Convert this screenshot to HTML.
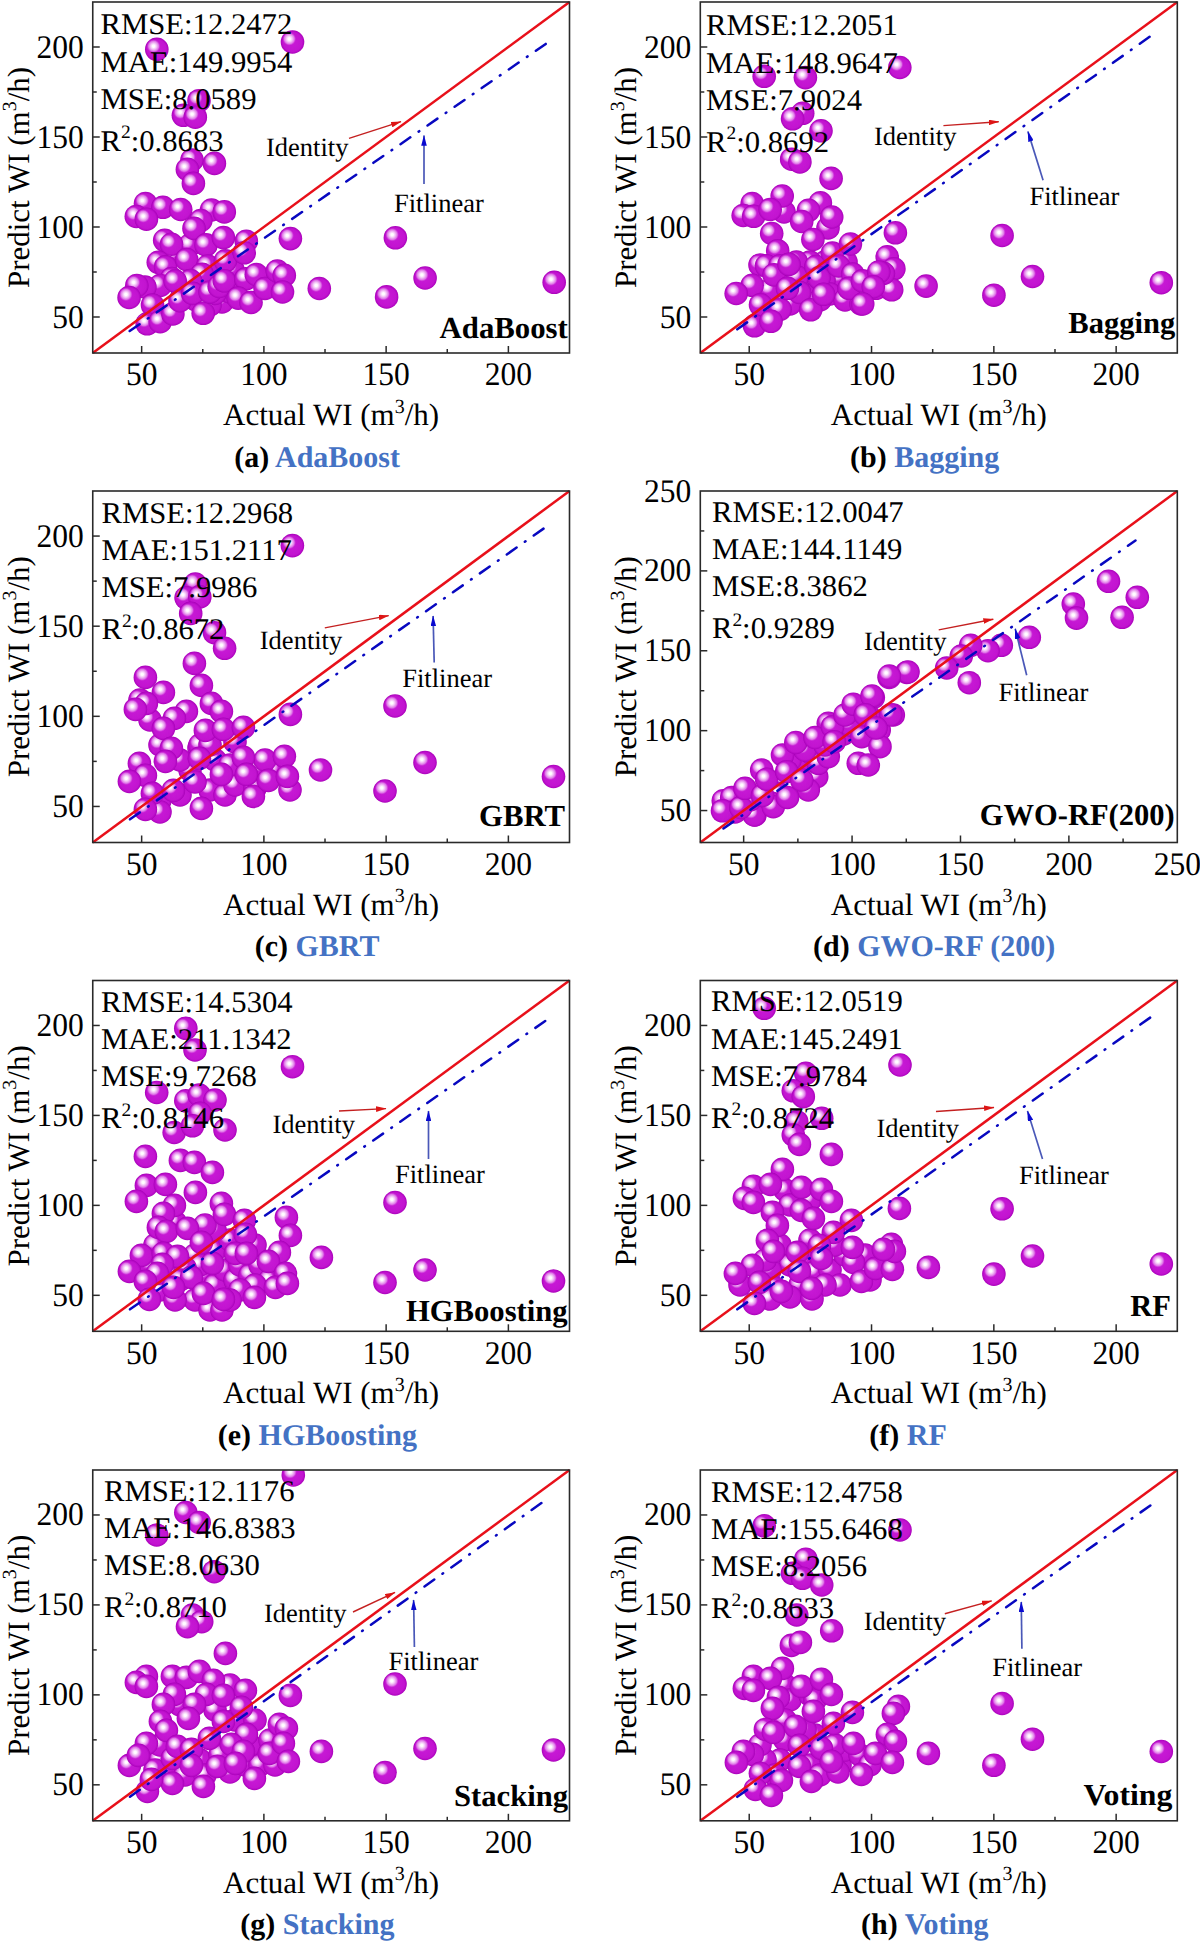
<!DOCTYPE html>
<html><head><meta charset="utf-8"><title>WI prediction scatter plots</title>
<style>html,body{margin:0;padding:0;background:#fff;width:1200px;height:1943px;overflow:hidden}svg{display:block}text{text-rendering:geometricPrecision}</style>
</head><body>
<svg width="1200" height="1943" viewBox="0 0 1200 1943">
<defs>
<radialGradient id="hl" cx="0.5" cy="0.5" r="0.5">
<stop offset="0" stop-color="#ffffff"/>
<stop offset="0.18" stop-color="#fffaff"/>
<stop offset="0.45" stop-color="#f2c4f5" stop-opacity="0.97"/>
<stop offset="0.72" stop-color="#e488ec" stop-opacity="0.85"/>
<stop offset="0.88" stop-color="#d448de" stop-opacity="0.45"/>
<stop offset="1" stop-color="#c418d2" stop-opacity="0"/>
</radialGradient>
<radialGradient id="sph" cx="0.5" cy="0.5" r="0.5">
<stop offset="0" stop-color="#c81ad6"/>
<stop offset="0.8" stop-color="#c214d0"/>
<stop offset="0.93" stop-color="#b408c4"/>
<stop offset="1" stop-color="#a600b6"/>
</radialGradient>
<g id="ball"><circle cx="0" cy="0" r="11.8" fill="url(#sph)"/><circle cx="-3.2" cy="-3.1" r="7" fill="url(#hl)"/></g>
<marker id="arr_r" viewBox="0 0 10 10" refX="9.5" refY="5" markerWidth="10.5" markerHeight="5.6" markerUnits="userSpaceOnUse" orient="auto" preserveAspectRatio="none"><path d="M0,0 L10,5 L0,10 z" fill="#dd1515"/></marker>
<marker id="arr_b" viewBox="0 0 10 10" refX="9.5" refY="5" markerWidth="10.8" markerHeight="5.6" markerUnits="userSpaceOnUse" orient="auto" preserveAspectRatio="none"><path d="M0,0 L10,5 L0,10 z" fill="#0a0ad0"/></marker>
<clipPath id="clipa"><rect x="92.75" y="2" width="476.75" height="351"/></clipPath><clipPath id="clipb"><rect x="700.3" y="2" width="477" height="351"/></clipPath><clipPath id="clipc"><rect x="92.75" y="491" width="476.75" height="351.5"/></clipPath><clipPath id="clipd"><rect x="700.3" y="491" width="477" height="351.5"/></clipPath><clipPath id="clipe"><rect x="92.75" y="980.5" width="476.75" height="350.8"/></clipPath><clipPath id="clipf"><rect x="700.3" y="980.5" width="477" height="350.8"/></clipPath><clipPath id="clipg"><rect x="92.75" y="1470" width="476.75" height="350.8"/></clipPath><clipPath id="cliph"><rect x="700.3" y="1470" width="477" height="350.8"/></clipPath>
</defs>
<rect width="1200" height="1943" fill="#fff"/>
<g clip-path="url(#clipa)">
<use href="#ball" x="185" y="292"/>
<use href="#ball" x="196" y="300"/>
<use href="#ball" x="222" y="302"/>
<use href="#ball" x="230" y="292"/>
<use href="#ball" x="210" y="305"/>
<use href="#ball" x="180" y="285"/>
<use href="#ball" x="233" y="270"/>
<use href="#ball" x="215" y="280"/>
<use href="#ball" x="211.4" y="275.4"/>
<use href="#ball" x="175" y="255"/>
<use href="#ball" x="190" y="245"/>
<use href="#ball" x="156.8" y="49.3"/>
<use href="#ball" x="292.5" y="42"/>
<use href="#ball" x="199" y="100.7"/>
<use href="#ball" x="183.4" y="115.3"/>
<use href="#ball" x="195.3" y="117.2"/>
<use href="#ball" x="192" y="160"/>
<use href="#ball" x="187.4" y="169.4"/>
<use href="#ball" x="214.4" y="163.4"/>
<use href="#ball" x="193.4" y="183.4"/>
<use href="#ball" x="145.5" y="203.6"/>
<use href="#ball" x="162.9" y="207.3"/>
<use href="#ball" x="180.7" y="209.5"/>
<use href="#ball" x="136.3" y="216.5"/>
<use href="#ball" x="146.4" y="219.2"/>
<use href="#ball" x="211.5" y="210"/>
<use href="#ball" x="224.3" y="211.9"/>
<use href="#ball" x="200.8" y="220.5"/>
<use href="#ball" x="194" y="228.4"/>
<use href="#ball" x="164.7" y="240.3"/>
<use href="#ball" x="171.5" y="244.3"/>
<use href="#ball" x="206" y="244.9"/>
<use href="#ball" x="223.4" y="237.6"/>
<use href="#ball" x="246.3" y="241.2"/>
<use href="#ball" x="290.4" y="238.6"/>
<use href="#ball" x="158.3" y="262.3"/>
<use href="#ball" x="165.6" y="266.9"/>
<use href="#ball" x="186.7" y="259.6"/>
<use href="#ball" x="207.8" y="266"/>
<use href="#ball" x="225.4" y="260.8"/>
<use href="#ball" x="202.1" y="274.2"/>
<use href="#ball" x="190.4" y="280.6"/>
<use href="#ball" x="171.8" y="278.5"/>
<use href="#ball" x="160.2" y="285.5"/>
<use href="#ball" x="175.2" y="281"/>
<use href="#ball" x="144.9" y="287"/>
<use href="#ball" x="136.8" y="285.5"/>
<use href="#ball" x="129.1" y="297.5"/>
<use href="#ball" x="152.5" y="305.1"/>
<use href="#ball" x="147.2" y="323.8"/>
<use href="#ball" x="160.2" y="321.7"/>
<use href="#ball" x="172.9" y="313.9"/>
<use href="#ball" x="180" y="300.7"/>
<use href="#ball" x="192.7" y="293.4"/>
<use href="#ball" x="203.2" y="313.3"/>
<use href="#ball" x="214.9" y="293.4"/>
<use href="#ball" x="210" y="292"/>
<use href="#ball" x="219.2" y="286.5"/>
<use href="#ball" x="224.3" y="280.8"/>
<use href="#ball" x="244.2" y="252.8"/>
<use href="#ball" x="245.8" y="278.9"/>
<use href="#ball" x="238.2" y="298.1"/>
<use href="#ball" x="251" y="302.5"/>
<use href="#ball" x="256.3" y="274.5"/>
<use href="#ball" x="265" y="288.5"/>
<use href="#ball" x="277.3" y="271"/>
<use href="#ball" x="284.3" y="275.4"/>
<use href="#ball" x="282.5" y="292"/>
<use href="#ball" x="319.3" y="288.5"/>
<use href="#ball" x="395.4" y="237.8"/>
<use href="#ball" x="386.6" y="296.9"/>
<use href="#ball" x="425.1" y="278"/>
<use href="#ball" x="554.2" y="282.3"/>
</g>
<line x1="92.75" y1="353" x2="569.5" y2="2" stroke="#e8101a" stroke-width="2.5"/>
<line x1="128.7" y1="331.7" x2="548.5" y2="42" stroke="#0808c0" stroke-width="2.5" stroke-dasharray="12 10.05 0.8 10.05" stroke-dashoffset="-1.2" stroke-linecap="round"/>
<rect x="92.75" y="2" width="476.75" height="351" fill="none" stroke="#2a2a2a" stroke-width="1.6"/>
<line x1="141.65" y1="353" x2="141.65" y2="346" stroke="#2a2a2a" stroke-width="1.5"/>
<line x1="92.75" y1="317" x2="99.75" y2="317" stroke="#2a2a2a" stroke-width="1.5"/>
<text transform="translate(141.65,385.4) scale(0.955,1)" text-anchor="middle" font-size="33" font-family="Liberation Serif">50</text>
<text transform="translate(83.75,327.5) scale(0.955,1)" text-anchor="end" font-size="33" font-family="Liberation Serif">50</text>
<line x1="202.77" y1="353" x2="202.77" y2="349" stroke="#2a2a2a" stroke-width="1.5"/>
<line x1="92.75" y1="272" x2="96.75" y2="272" stroke="#2a2a2a" stroke-width="1.5"/>
<line x1="263.89" y1="353" x2="263.89" y2="346" stroke="#2a2a2a" stroke-width="1.5"/>
<line x1="92.75" y1="227" x2="99.75" y2="227" stroke="#2a2a2a" stroke-width="1.5"/>
<text transform="translate(263.89,385.4) scale(0.955,1)" text-anchor="middle" font-size="33" font-family="Liberation Serif">100</text>
<text transform="translate(83.75,237.5) scale(0.955,1)" text-anchor="end" font-size="33" font-family="Liberation Serif">100</text>
<line x1="325.01" y1="353" x2="325.01" y2="349" stroke="#2a2a2a" stroke-width="1.5"/>
<line x1="92.75" y1="182" x2="96.75" y2="182" stroke="#2a2a2a" stroke-width="1.5"/>
<line x1="386.13" y1="353" x2="386.13" y2="346" stroke="#2a2a2a" stroke-width="1.5"/>
<line x1="92.75" y1="137" x2="99.75" y2="137" stroke="#2a2a2a" stroke-width="1.5"/>
<text transform="translate(386.13,385.4) scale(0.955,1)" text-anchor="middle" font-size="33" font-family="Liberation Serif">150</text>
<text transform="translate(83.75,147.5) scale(0.955,1)" text-anchor="end" font-size="33" font-family="Liberation Serif">150</text>
<line x1="447.26" y1="353" x2="447.26" y2="349" stroke="#2a2a2a" stroke-width="1.5"/>
<line x1="92.75" y1="92" x2="96.75" y2="92" stroke="#2a2a2a" stroke-width="1.5"/>
<line x1="508.38" y1="353" x2="508.38" y2="346" stroke="#2a2a2a" stroke-width="1.5"/>
<line x1="92.75" y1="47" x2="99.75" y2="47" stroke="#2a2a2a" stroke-width="1.5"/>
<text transform="translate(508.38,385.4) scale(0.955,1)" text-anchor="middle" font-size="33" font-family="Liberation Serif">200</text>
<text transform="translate(83.75,57.5) scale(0.955,1)" text-anchor="end" font-size="33" font-family="Liberation Serif">200</text>
<text x="331.12" y="425" text-anchor="middle" font-size="31" font-family="Liberation Serif">Actual WI (m<tspan dy="-12.5" font-size="20">3</tspan><tspan dy="12.5">/h)</tspan></text>
<text transform="translate(28.75,177.5) rotate(-90)" x="0" y="0" text-anchor="middle" font-size="31" font-family="Liberation Serif">Predict WI (m<tspan dy="-12.5" font-size="20">3</tspan><tspan dy="12.5">/h)</tspan></text>
<text transform="translate(100.6,34.2) scale(1.022,1)" font-size="30" font-family="Liberation Serif">RMSE:12.2472</text>
<text transform="translate(100.6,71.5) scale(1.022,1)" font-size="30" font-family="Liberation Serif">MAE:149.9954</text>
<text transform="translate(100.6,108.7) scale(1.022,1)" font-size="30" font-family="Liberation Serif">MSE:8.0589</text>
<text transform="translate(100.6,150.7) scale(1.022,1)" font-size="30" font-family="Liberation Serif">R<tspan dy="-12.5" font-size="19">2</tspan><tspan dy="12.5">:0.8683</tspan></text>
<text x="439.6" y="337.5" textLength="128.2" lengthAdjust="spacingAndGlyphs" font-size="30.5" font-weight="bold" font-family="Liberation Serif">AdaBoost</text>
<text x="317.1" y="466.5" text-anchor="middle" font-size="30" font-weight="bold" font-family="Liberation Serif">(a) <tspan fill="#4472c4">AdaBoost</tspan></text>
<text x="266" y="156.4" font-size="26.5" font-family="Liberation Serif">Identity</text>
<text x="394" y="212.4" font-size="26.5" font-family="Liberation Serif">Fitlinear</text>
<line x1="349" y1="138.4" x2="401" y2="121.6" stroke="#c42020" stroke-width="1.4" marker-end="url(#arr_r)"/>
<line x1="424" y1="184" x2="424" y2="135.6" stroke="#4a58b8" stroke-width="1.7" marker-end="url(#arr_b)"/>
<g clip-path="url(#clipb)">
<use href="#ball" x="784" y="212"/>
<use href="#ball" x="828" y="228"/>
<use href="#ball" x="840" y="278"/>
<use href="#ball" x="824" y="280"/>
<use href="#ball" x="804" y="294"/>
<use href="#ball" x="790" y="304"/>
<use href="#ball" x="830" y="294"/>
<use href="#ball" x="846" y="262"/>
<use href="#ball" x="797" y="284"/>
<use href="#ball" x="825" y="262"/>
<use href="#ball" x="760" y="265"/>
<use href="#ball" x="770" y="290"/>
<use href="#ball" x="810" y="262"/>
<use href="#ball" x="845" y="300"/>
<use href="#ball" x="820" y="300"/>
<use href="#ball" x="764.2" y="76.3"/>
<use href="#ball" x="805.4" y="77.6"/>
<use href="#ball" x="899.8" y="67.5"/>
<use href="#ball" x="802.7" y="113.3"/>
<use href="#ball" x="792.6" y="118.8"/>
<use href="#ball" x="821" y="130.8"/>
<use href="#ball" x="791.7" y="159.2"/>
<use href="#ball" x="799.9" y="161.9"/>
<use href="#ball" x="831.1" y="178.4"/>
<use href="#ball" x="782.2" y="196"/>
<use href="#ball" x="752.2" y="203.6"/>
<use href="#ball" x="743.2" y="215.5"/>
<use href="#ball" x="753.7" y="216.3"/>
<use href="#ball" x="770.2" y="209.5"/>
<use href="#ball" x="820.4" y="202.8"/>
<use href="#ball" x="808.5" y="210.3"/>
<use href="#ball" x="801.7" y="221.5"/>
<use href="#ball" x="831.7" y="217"/>
<use href="#ball" x="771.7" y="233.5"/>
<use href="#ball" x="812.9" y="239.5"/>
<use href="#ball" x="777.7" y="250.8"/>
<use href="#ball" x="766.5" y="265.8"/>
<use href="#ball" x="780" y="265.8"/>
<use href="#ball" x="774" y="274.8"/>
<use href="#ball" x="796.4" y="262"/>
<use href="#ball" x="797.2" y="277"/>
<use href="#ball" x="815.9" y="266.5"/>
<use href="#ball" x="832.4" y="253"/>
<use href="#ball" x="850.4" y="244"/>
<use href="#ball" x="819" y="277.8"/>
<use href="#ball" x="838.5" y="266"/>
<use href="#ball" x="852.7" y="274.1"/>
<use href="#ball" x="752.2" y="285.3"/>
<use href="#ball" x="736.2" y="293.5"/>
<use href="#ball" x="760.5" y="304.8"/>
<use href="#ball" x="780" y="309.3"/>
<use href="#ball" x="754.5" y="325.8"/>
<use href="#ball" x="771" y="321.3"/>
<use href="#ball" x="799.5" y="292.5"/>
<use href="#ball" x="810.7" y="309.8"/>
<use href="#ball" x="823.5" y="294.3"/>
<use href="#ball" x="861" y="304"/>
<use href="#ball" x="876" y="288.3"/>
<use href="#ball" x="887.2" y="256.8"/>
<use href="#ball" x="893.9" y="268.8"/>
<use href="#ball" x="891.7" y="289.8"/>
<use href="#ball" x="895.4" y="232.8"/>
<use href="#ball" x="883.4" y="273.3"/>
<use href="#ball" x="789" y="264.3"/>
<use href="#ball" x="787.5" y="288.3"/>
<use href="#ball" x="849" y="288.3"/>
<use href="#ball" x="862.5" y="280.8"/>
<use href="#ball" x="878.7" y="272"/>
<use href="#ball" x="873.3" y="286.7"/>
<use href="#ball" x="862.7" y="304"/>
<use href="#ball" x="926.1" y="286.1"/>
<use href="#ball" x="1002.1" y="235.5"/>
<use href="#ball" x="993.9" y="295.2"/>
<use href="#ball" x="1032.5" y="276.5"/>
<use href="#ball" x="1161.3" y="282.7"/>
</g>
<line x1="700.3" y1="353" x2="1177.3" y2="2" stroke="#e8101a" stroke-width="2.5"/>
<line x1="736.3" y1="330" x2="1155" y2="33" stroke="#0808c0" stroke-width="2.5" stroke-dasharray="12 10.05 0.8 10.05" stroke-dashoffset="-1.2" stroke-linecap="round"/>
<rect x="700.3" y="2" width="477" height="351" fill="none" stroke="#2a2a2a" stroke-width="1.6"/>
<line x1="749.22" y1="353" x2="749.22" y2="346" stroke="#2a2a2a" stroke-width="1.5"/>
<line x1="700.3" y1="317" x2="707.3" y2="317" stroke="#2a2a2a" stroke-width="1.5"/>
<text transform="translate(749.22,385.4) scale(0.955,1)" text-anchor="middle" font-size="33" font-family="Liberation Serif">50</text>
<text transform="translate(691.3,327.5) scale(0.955,1)" text-anchor="end" font-size="33" font-family="Liberation Serif">50</text>
<line x1="810.38" y1="353" x2="810.38" y2="349" stroke="#2a2a2a" stroke-width="1.5"/>
<line x1="700.3" y1="272" x2="704.3" y2="272" stroke="#2a2a2a" stroke-width="1.5"/>
<line x1="871.53" y1="353" x2="871.53" y2="346" stroke="#2a2a2a" stroke-width="1.5"/>
<line x1="700.3" y1="227" x2="707.3" y2="227" stroke="#2a2a2a" stroke-width="1.5"/>
<text transform="translate(871.53,385.4) scale(0.955,1)" text-anchor="middle" font-size="33" font-family="Liberation Serif">100</text>
<text transform="translate(691.3,237.5) scale(0.955,1)" text-anchor="end" font-size="33" font-family="Liberation Serif">100</text>
<line x1="932.68" y1="353" x2="932.68" y2="349" stroke="#2a2a2a" stroke-width="1.5"/>
<line x1="700.3" y1="182" x2="704.3" y2="182" stroke="#2a2a2a" stroke-width="1.5"/>
<line x1="993.84" y1="353" x2="993.84" y2="346" stroke="#2a2a2a" stroke-width="1.5"/>
<line x1="700.3" y1="137" x2="707.3" y2="137" stroke="#2a2a2a" stroke-width="1.5"/>
<text transform="translate(993.84,385.4) scale(0.955,1)" text-anchor="middle" font-size="33" font-family="Liberation Serif">150</text>
<text transform="translate(691.3,147.5) scale(0.955,1)" text-anchor="end" font-size="33" font-family="Liberation Serif">150</text>
<line x1="1054.99" y1="353" x2="1054.99" y2="349" stroke="#2a2a2a" stroke-width="1.5"/>
<line x1="700.3" y1="92" x2="704.3" y2="92" stroke="#2a2a2a" stroke-width="1.5"/>
<line x1="1116.15" y1="353" x2="1116.15" y2="346" stroke="#2a2a2a" stroke-width="1.5"/>
<line x1="700.3" y1="47" x2="707.3" y2="47" stroke="#2a2a2a" stroke-width="1.5"/>
<text transform="translate(1116.15,385.4) scale(0.955,1)" text-anchor="middle" font-size="33" font-family="Liberation Serif">200</text>
<text transform="translate(691.3,57.5) scale(0.955,1)" text-anchor="end" font-size="33" font-family="Liberation Serif">200</text>
<text x="938.8" y="425" text-anchor="middle" font-size="31" font-family="Liberation Serif">Actual WI (m<tspan dy="-12.5" font-size="20">3</tspan><tspan dy="12.5">/h)</tspan></text>
<text transform="translate(636.3,177.5) rotate(-90)" x="0" y="0" text-anchor="middle" font-size="31" font-family="Liberation Serif">Predict WI (m<tspan dy="-12.5" font-size="20">3</tspan><tspan dy="12.5">/h)</tspan></text>
<text transform="translate(706.1,35.2) scale(1.022,1)" font-size="30" font-family="Liberation Serif">RMSE:12.2051</text>
<text transform="translate(706.1,72.5) scale(1.022,1)" font-size="30" font-family="Liberation Serif">MAE:148.9647</text>
<text transform="translate(706.1,109.7) scale(1.022,1)" font-size="30" font-family="Liberation Serif">MSE:7.9024</text>
<text transform="translate(706.1,151.7) scale(1.022,1)" font-size="30" font-family="Liberation Serif">R<tspan dy="-12.5" font-size="19">2</tspan><tspan dy="12.5">:0.8692</tspan></text>
<text x="1068.3" y="333" textLength="106.9" lengthAdjust="spacingAndGlyphs" font-size="30.5" font-weight="bold" font-family="Liberation Serif">Bagging</text>
<text x="924.6" y="466.5" text-anchor="middle" font-size="30" font-weight="bold" font-family="Liberation Serif">(b) <tspan fill="#4472c4">Bagging</tspan></text>
<text x="874" y="144.6" font-size="26.5" font-family="Liberation Serif">Identity</text>
<text x="1029.5" y="205.1" font-size="26.5" font-family="Liberation Serif">Fitlinear</text>
<line x1="943.4" y1="125.6" x2="998.7" y2="121.7" stroke="#c42020" stroke-width="1.4" marker-end="url(#arr_r)"/>
<line x1="1043.1" y1="180.2" x2="1027.9" y2="131.4" stroke="#4a58b8" stroke-width="1.7" marker-end="url(#arr_b)"/>
<g clip-path="url(#clipc)">
<use href="#ball" x="160" y="745"/>
<use href="#ball" x="199" y="748"/>
<use href="#ball" x="190" y="770"/>
<use href="#ball" x="180" y="795"/>
<use href="#ball" x="160" y="800"/>
<use href="#ball" x="210" y="790"/>
<use href="#ball" x="225" y="795"/>
<use href="#ball" x="235" y="785"/>
<use href="#ball" x="215" y="760"/>
<use href="#ball" x="230" y="765"/>
<use href="#ball" x="200" y="745"/>
<use href="#ball" x="260" y="768"/>
<use href="#ball" x="275" y="770"/>
<use href="#ball" x="290" y="790"/>
<use href="#ball" x="180" y="760"/>
<use href="#ball" x="255" y="788"/>
<use href="#ball" x="265" y="760"/>
<use href="#ball" x="210" y="745"/>
<use href="#ball" x="140" y="700"/>
<use href="#ball" x="150" y="720"/>
<use href="#ball" x="235" y="742"/>
<use href="#ball" x="195" y="782"/>
<use href="#ball" x="160" y="812"/>
<use href="#ball" x="292.4" y="545.6"/>
<use href="#ball" x="195.3" y="584.1"/>
<use href="#ball" x="186.1" y="597.8"/>
<use href="#ball" x="199.8" y="596.9"/>
<use href="#ball" x="190.7" y="613.4"/>
<use href="#ball" x="214.5" y="632.7"/>
<use href="#ball" x="224.6" y="648.3"/>
<use href="#ball" x="145.4" y="677.4"/>
<use href="#ball" x="163.4" y="692.4"/>
<use href="#ball" x="146.4" y="703.4"/>
<use href="#ball" x="135.4" y="709.4"/>
<use href="#ball" x="186.4" y="711.4"/>
<use href="#ball" x="174.4" y="718.4"/>
<use href="#ball" x="163.4" y="728.4"/>
<use href="#ball" x="194.4" y="663.4"/>
<use href="#ball" x="201.4" y="685.4"/>
<use href="#ball" x="211.4" y="703.4"/>
<use href="#ball" x="221.4" y="711.4"/>
<use href="#ball" x="205.4" y="730.4"/>
<use href="#ball" x="223.4" y="729.4"/>
<use href="#ball" x="243.4" y="727.4"/>
<use href="#ball" x="290.4" y="714.4"/>
<use href="#ball" x="171.4" y="748.4"/>
<use href="#ball" x="165.4" y="761.4"/>
<use href="#ball" x="139.4" y="763.4"/>
<use href="#ball" x="145.4" y="775.4"/>
<use href="#ball" x="129.4" y="781.4"/>
<use href="#ball" x="152.4" y="793.4"/>
<use href="#ball" x="173.4" y="790.4"/>
<use href="#ball" x="145.4" y="809.4"/>
<use href="#ball" x="201.4" y="808.4"/>
<use href="#ball" x="199.4" y="758.4"/>
<use href="#ball" x="221.4" y="774.4"/>
<use href="#ball" x="243.4" y="757.4"/>
<use href="#ball" x="246.4" y="774.4"/>
<use href="#ball" x="253.4" y="796.4"/>
<use href="#ball" x="268.4" y="780.4"/>
<use href="#ball" x="284.4" y="756.4"/>
<use href="#ball" x="287.4" y="776.4"/>
<use href="#ball" x="320.5" y="770"/>
<use href="#ball" x="395" y="706"/>
<use href="#ball" x="425" y="762.5"/>
<use href="#ball" x="385" y="791"/>
<use href="#ball" x="553.5" y="776.5"/>
</g>
<line x1="92.75" y1="842.5" x2="569.5" y2="491" stroke="#e8101a" stroke-width="2.5"/>
<line x1="129" y1="820" x2="547.7" y2="525.7" stroke="#0808c0" stroke-width="2.5" stroke-dasharray="12 10.05 0.8 10.05" stroke-dashoffset="-1.2" stroke-linecap="round"/>
<rect x="92.75" y="491" width="476.75" height="351.5" fill="none" stroke="#2a2a2a" stroke-width="1.6"/>
<line x1="141.65" y1="842.5" x2="141.65" y2="835.5" stroke="#2a2a2a" stroke-width="1.5"/>
<line x1="92.75" y1="806.45" x2="99.75" y2="806.45" stroke="#2a2a2a" stroke-width="1.5"/>
<text transform="translate(141.65,874.9) scale(0.955,1)" text-anchor="middle" font-size="33" font-family="Liberation Serif">50</text>
<text transform="translate(83.75,816.95) scale(0.955,1)" text-anchor="end" font-size="33" font-family="Liberation Serif">50</text>
<line x1="202.77" y1="842.5" x2="202.77" y2="838.5" stroke="#2a2a2a" stroke-width="1.5"/>
<line x1="92.75" y1="761.38" x2="96.75" y2="761.38" stroke="#2a2a2a" stroke-width="1.5"/>
<line x1="263.89" y1="842.5" x2="263.89" y2="835.5" stroke="#2a2a2a" stroke-width="1.5"/>
<line x1="92.75" y1="716.32" x2="99.75" y2="716.32" stroke="#2a2a2a" stroke-width="1.5"/>
<text transform="translate(263.89,874.9) scale(0.955,1)" text-anchor="middle" font-size="33" font-family="Liberation Serif">100</text>
<text transform="translate(83.75,726.82) scale(0.955,1)" text-anchor="end" font-size="33" font-family="Liberation Serif">100</text>
<line x1="325.01" y1="842.5" x2="325.01" y2="838.5" stroke="#2a2a2a" stroke-width="1.5"/>
<line x1="92.75" y1="671.26" x2="96.75" y2="671.26" stroke="#2a2a2a" stroke-width="1.5"/>
<line x1="386.13" y1="842.5" x2="386.13" y2="835.5" stroke="#2a2a2a" stroke-width="1.5"/>
<line x1="92.75" y1="626.19" x2="99.75" y2="626.19" stroke="#2a2a2a" stroke-width="1.5"/>
<text transform="translate(386.13,874.9) scale(0.955,1)" text-anchor="middle" font-size="33" font-family="Liberation Serif">150</text>
<text transform="translate(83.75,636.69) scale(0.955,1)" text-anchor="end" font-size="33" font-family="Liberation Serif">150</text>
<line x1="447.26" y1="842.5" x2="447.26" y2="838.5" stroke="#2a2a2a" stroke-width="1.5"/>
<line x1="92.75" y1="581.13" x2="96.75" y2="581.13" stroke="#2a2a2a" stroke-width="1.5"/>
<line x1="508.38" y1="842.5" x2="508.38" y2="835.5" stroke="#2a2a2a" stroke-width="1.5"/>
<line x1="92.75" y1="536.06" x2="99.75" y2="536.06" stroke="#2a2a2a" stroke-width="1.5"/>
<text transform="translate(508.38,874.9) scale(0.955,1)" text-anchor="middle" font-size="33" font-family="Liberation Serif">200</text>
<text transform="translate(83.75,546.56) scale(0.955,1)" text-anchor="end" font-size="33" font-family="Liberation Serif">200</text>
<text x="331.12" y="914.5" text-anchor="middle" font-size="31" font-family="Liberation Serif">Actual WI (m<tspan dy="-12.5" font-size="20">3</tspan><tspan dy="12.5">/h)</tspan></text>
<text transform="translate(28.75,666.75) rotate(-90)" x="0" y="0" text-anchor="middle" font-size="31" font-family="Liberation Serif">Predict WI (m<tspan dy="-12.5" font-size="20">3</tspan><tspan dy="12.5">/h)</tspan></text>
<text transform="translate(101.45,522.75) scale(1.022,1)" font-size="30" font-family="Liberation Serif">RMSE:12.2968</text>
<text transform="translate(101.45,560.05) scale(1.022,1)" font-size="30" font-family="Liberation Serif">MAE:151.2117</text>
<text transform="translate(101.45,597.25) scale(1.022,1)" font-size="30" font-family="Liberation Serif">MSE:7.9986</text>
<text transform="translate(101.45,639.25) scale(1.022,1)" font-size="30" font-family="Liberation Serif">R<tspan dy="-12.5" font-size="19">2</tspan><tspan dy="12.5">:0.8672</tspan></text>
<text x="478.95" y="825.7" textLength="86.25" lengthAdjust="spacingAndGlyphs" font-size="30.5" font-weight="bold" font-family="Liberation Serif">GBRT</text>
<text x="317.1" y="956" text-anchor="middle" font-size="30" font-weight="bold" font-family="Liberation Serif">(c) <tspan fill="#4472c4">GBRT</tspan></text>
<text x="259.8" y="649" font-size="26.5" font-family="Liberation Serif">Identity</text>
<text x="402.2" y="687" font-size="26.5" font-family="Liberation Serif">Fitlinear</text>
<line x1="324.8" y1="627.9" x2="388.7" y2="615.6" stroke="#c42020" stroke-width="1.4" marker-end="url(#arr_r)"/>
<line x1="434.2" y1="662.6" x2="433.1" y2="616" stroke="#4a58b8" stroke-width="1.7" marker-end="url(#arr_b)"/>
<g clip-path="url(#clipd)">
<use href="#ball" x="723.3" y="800.8"/>
<use href="#ball" x="731.7" y="797.5"/>
<use href="#ball" x="755" y="815"/>
<use href="#ball" x="778.3" y="793.3"/>
<use href="#ball" x="798.3" y="763.3"/>
<use href="#ball" x="811.7" y="753.3"/>
<use href="#ball" x="816.7" y="776.7"/>
<use href="#ball" x="818.3" y="763.3"/>
<use href="#ball" x="828.3" y="723.3"/>
<use href="#ball" x="843.3" y="734.2"/>
<use href="#ball" x="828.3" y="756.7"/>
<use href="#ball" x="808.3" y="790"/>
<use href="#ball" x="771.7" y="803.3"/>
<use href="#ball" x="754.2" y="815"/>
<use href="#ball" x="773.3" y="806.7"/>
<use href="#ball" x="787.5" y="797.5"/>
<use href="#ball" x="844.7" y="718"/>
<use href="#ball" x="735" y="812"/>
<use href="#ball" x="750" y="800"/>
<use href="#ball" x="790" y="760"/>
<use href="#ball" x="805" y="750"/>
<use href="#ball" x="825" y="745"/>
<use href="#ball" x="850" y="725"/>
<use href="#ball" x="722.5" y="810.8"/>
<use href="#ball" x="740.8" y="807.5"/>
<use href="#ball" x="745" y="788.3"/>
<use href="#ball" x="762.5" y="795.4"/>
<use href="#ball" x="761.7" y="770"/>
<use href="#ball" x="766.7" y="779.2"/>
<use href="#ball" x="782.5" y="755"/>
<use href="#ball" x="786.7" y="771.7"/>
<use href="#ball" x="795.8" y="742.5"/>
<use href="#ball" x="801.7" y="780"/>
<use href="#ball" x="815" y="737.5"/>
<use href="#ball" x="832.5" y="726.7"/>
<use href="#ball" x="834.2" y="741.7"/>
<use href="#ball" x="845" y="715"/>
<use href="#ball" x="853.3" y="704.2"/>
<use href="#ball" x="873.3" y="697.5"/>
<use href="#ball" x="869.2" y="716.7"/>
<use href="#ball" x="879.2" y="730"/>
<use href="#ball" x="861.7" y="736.7"/>
<use href="#ball" x="880" y="746.7"/>
<use href="#ball" x="858.3" y="763.3"/>
<use href="#ball" x="868.3" y="765"/>
<use href="#ball" x="893.3" y="715"/>
<use href="#ball" x="889.2" y="677.5"/>
<use href="#ball" x="906.7" y="672.5"/>
<use href="#ball" x="1108.5" y="581.3"/>
<use href="#ball" x="1137.3" y="597.3"/>
<use href="#ball" x="1073.3" y="604"/>
<use href="#ball" x="1076.5" y="618.1"/>
<use href="#ball" x="1122.1" y="617.3"/>
<use href="#ball" x="1029.3" y="637.3"/>
<use href="#ball" x="1001.3" y="645.3"/>
<use href="#ball" x="988" y="650.7"/>
<use href="#ball" x="970.7" y="645.3"/>
<use href="#ball" x="961.3" y="656"/>
<use href="#ball" x="946.7" y="668"/>
<use href="#ball" x="969.3" y="682.7"/>
<use href="#ball" x="908" y="672"/>
<use href="#ball" x="889.3" y="676"/>
<use href="#ball" x="872" y="696"/>
<use href="#ball" x="890.7" y="714.7"/>
<use href="#ball" x="865.3" y="714.7"/>
<use href="#ball" x="876" y="728"/>
</g>
<line x1="700.3" y1="842.5" x2="1177.3" y2="491" stroke="#e8101a" stroke-width="2.5"/>
<line x1="722.5" y1="829.2" x2="1135.5" y2="540.5" stroke="#0808c0" stroke-width="2.5" stroke-dasharray="12 10.05 0.8 10.05" stroke-dashoffset="-1.2" stroke-linecap="round"/>
<rect x="700.3" y="491" width="477" height="351.5" fill="none" stroke="#2a2a2a" stroke-width="1.6"/>
<line x1="743.66" y1="842.5" x2="743.66" y2="835.5" stroke="#2a2a2a" stroke-width="1.5"/>
<line x1="700.3" y1="810.55" x2="707.3" y2="810.55" stroke="#2a2a2a" stroke-width="1.5"/>
<text transform="translate(743.66,874.9) scale(0.955,1)" text-anchor="middle" font-size="33" font-family="Liberation Serif">50</text>
<text transform="translate(691.3,821.05) scale(0.955,1)" text-anchor="end" font-size="33" font-family="Liberation Serif">50</text>
<line x1="797.87" y1="842.5" x2="797.87" y2="838.5" stroke="#2a2a2a" stroke-width="1.5"/>
<line x1="700.3" y1="770.6" x2="704.3" y2="770.6" stroke="#2a2a2a" stroke-width="1.5"/>
<line x1="852.07" y1="842.5" x2="852.07" y2="835.5" stroke="#2a2a2a" stroke-width="1.5"/>
<line x1="700.3" y1="730.66" x2="707.3" y2="730.66" stroke="#2a2a2a" stroke-width="1.5"/>
<text transform="translate(852.07,874.9) scale(0.955,1)" text-anchor="middle" font-size="33" font-family="Liberation Serif">100</text>
<text transform="translate(691.3,741.16) scale(0.955,1)" text-anchor="end" font-size="33" font-family="Liberation Serif">100</text>
<line x1="906.28" y1="842.5" x2="906.28" y2="838.5" stroke="#2a2a2a" stroke-width="1.5"/>
<line x1="700.3" y1="690.72" x2="704.3" y2="690.72" stroke="#2a2a2a" stroke-width="1.5"/>
<line x1="960.48" y1="842.5" x2="960.48" y2="835.5" stroke="#2a2a2a" stroke-width="1.5"/>
<line x1="700.3" y1="650.77" x2="707.3" y2="650.77" stroke="#2a2a2a" stroke-width="1.5"/>
<text transform="translate(960.48,874.9) scale(0.955,1)" text-anchor="middle" font-size="33" font-family="Liberation Serif">150</text>
<text transform="translate(691.3,661.27) scale(0.955,1)" text-anchor="end" font-size="33" font-family="Liberation Serif">150</text>
<line x1="1014.69" y1="842.5" x2="1014.69" y2="838.5" stroke="#2a2a2a" stroke-width="1.5"/>
<line x1="700.3" y1="610.83" x2="704.3" y2="610.83" stroke="#2a2a2a" stroke-width="1.5"/>
<line x1="1068.89" y1="842.5" x2="1068.89" y2="835.5" stroke="#2a2a2a" stroke-width="1.5"/>
<line x1="700.3" y1="570.89" x2="707.3" y2="570.89" stroke="#2a2a2a" stroke-width="1.5"/>
<text transform="translate(1068.89,874.9) scale(0.955,1)" text-anchor="middle" font-size="33" font-family="Liberation Serif">200</text>
<text transform="translate(691.3,581.39) scale(0.955,1)" text-anchor="end" font-size="33" font-family="Liberation Serif">200</text>
<line x1="1123.1" y1="842.5" x2="1123.1" y2="838.5" stroke="#2a2a2a" stroke-width="1.5"/>
<line x1="700.3" y1="530.94" x2="704.3" y2="530.94" stroke="#2a2a2a" stroke-width="1.5"/>
<text transform="translate(1177.3,874.9) scale(0.955,1)" text-anchor="middle" font-size="33" font-family="Liberation Serif">250</text>
<text transform="translate(691.3,501.5) scale(0.955,1)" text-anchor="end" font-size="33" font-family="Liberation Serif">250</text>
<text x="938.8" y="914.5" text-anchor="middle" font-size="31" font-family="Liberation Serif">Actual WI (m<tspan dy="-12.5" font-size="20">3</tspan><tspan dy="12.5">/h)</tspan></text>
<text transform="translate(636.3,666.75) rotate(-90)" x="0" y="0" text-anchor="middle" font-size="31" font-family="Liberation Serif">Predict WI (m<tspan dy="-12.5" font-size="20">3</tspan><tspan dy="12.5">/h)</tspan></text>
<text transform="translate(711.95,521.5) scale(1.022,1)" font-size="30" font-family="Liberation Serif">RMSE:12.0047</text>
<text transform="translate(711.95,558.8) scale(1.022,1)" font-size="30" font-family="Liberation Serif">MAE:144.1149</text>
<text transform="translate(711.95,596) scale(1.022,1)" font-size="30" font-family="Liberation Serif">MSE:8.3862</text>
<text transform="translate(711.95,638) scale(1.022,1)" font-size="30" font-family="Liberation Serif">R<tspan dy="-12.5" font-size="19">2</tspan><tspan dy="12.5">:0.9289</tspan></text>
<text x="979.8" y="824.75" textLength="194.8" lengthAdjust="spacingAndGlyphs" font-size="30.5" font-weight="bold" font-family="Liberation Serif">GWO-RF(200)</text>
<text x="934.1" y="956" text-anchor="middle" font-size="30" font-weight="bold" font-family="Liberation Serif">(d) <tspan fill="#4472c4">GWO-RF (200)</tspan></text>
<text x="864" y="650.3" font-size="26.5" font-family="Liberation Serif">Identity</text>
<text x="998.5" y="701.3" font-size="26.5" font-family="Liberation Serif">Fitlinear</text>
<line x1="938.7" y1="629.9" x2="993.3" y2="619.2" stroke="#c42020" stroke-width="1.4" marker-end="url(#arr_r)"/>
<line x1="1026.7" y1="675.2" x2="1015.2" y2="628.8" stroke="#4a58b8" stroke-width="1.7" marker-end="url(#arr_b)"/>
<g clip-path="url(#clipe)">
<use href="#ball" x="195" y="1255"/>
<use href="#ball" x="205" y="1275"/>
<use href="#ball" x="215" y="1285"/>
<use href="#ball" x="225" y="1270"/>
<use href="#ball" x="235" y="1280"/>
<use href="#ball" x="240" y="1265"/>
<use href="#ball" x="215" y="1250"/>
<use href="#ball" x="200" y="1265"/>
<use href="#ball" x="185" y="1268"/>
<use href="#ball" x="180" y="1280"/>
<use href="#ball" x="160" y="1290"/>
<use href="#ball" x="195" y="1300"/>
<use href="#ball" x="210" y="1310"/>
<use href="#ball" x="222" y="1310"/>
<use href="#ball" x="175" y="1300"/>
<use href="#ball" x="250" y="1275"/>
<use href="#ball" x="260" y="1265"/>
<use href="#ball" x="270" y="1280"/>
<use href="#ball" x="255" y="1285"/>
<use href="#ball" x="175" y="1222"/>
<use href="#ball" x="155" y="1245"/>
<use href="#ball" x="230" y="1240"/>
<use href="#ball" x="240" y="1290"/>
<use href="#ball" x="230" y="1300"/>
<use href="#ball" x="215" y="1230"/>
<use href="#ball" x="205" y="1225"/>
<use href="#ball" x="255" y="1245"/>
<use href="#ball" x="150" y="1265"/>
<use href="#ball" x="185.8" y="1028.3"/>
<use href="#ball" x="195" y="1050"/>
<use href="#ball" x="292.5" y="1066.7"/>
<use href="#ball" x="156.7" y="1092.5"/>
<use href="#ball" x="185.8" y="1100.8"/>
<use href="#ball" x="199.2" y="1095"/>
<use href="#ball" x="215" y="1100"/>
<use href="#ball" x="200" y="1113.3"/>
<use href="#ball" x="174.2" y="1132.5"/>
<use href="#ball" x="192.5" y="1125.8"/>
<use href="#ball" x="225" y="1130"/>
<use href="#ball" x="145.4" y="1156.4"/>
<use href="#ball" x="180.4" y="1160.4"/>
<use href="#ball" x="194.4" y="1162.4"/>
<use href="#ball" x="212.4" y="1172.4"/>
<use href="#ball" x="146.4" y="1185.4"/>
<use href="#ball" x="165.4" y="1184.4"/>
<use href="#ball" x="136.4" y="1201.4"/>
<use href="#ball" x="195.4" y="1192.4"/>
<use href="#ball" x="221.4" y="1203.4"/>
<use href="#ball" x="224.4" y="1214.4"/>
<use href="#ball" x="244.4" y="1220.4"/>
<use href="#ball" x="174.4" y="1205.4"/>
<use href="#ball" x="163.4" y="1213.4"/>
<use href="#ball" x="158.4" y="1227.4"/>
<use href="#ball" x="166.4" y="1231.4"/>
<use href="#ball" x="187.4" y="1228.4"/>
<use href="#ball" x="201.4" y="1242.4"/>
<use href="#ball" x="286.4" y="1217.4"/>
<use href="#ball" x="290.4" y="1235.4"/>
<use href="#ball" x="245.4" y="1234.4"/>
<use href="#ball" x="141.4" y="1255.4"/>
<use href="#ball" x="129.4" y="1271.4"/>
<use href="#ball" x="163.4" y="1253.4"/>
<use href="#ball" x="177.4" y="1256.4"/>
<use href="#ball" x="162.4" y="1264.4"/>
<use href="#ball" x="157.4" y="1273.4"/>
<use href="#ball" x="145.4" y="1281.4"/>
<use href="#ball" x="191.4" y="1277.4"/>
<use href="#ball" x="212.4" y="1263.4"/>
<use href="#ball" x="173.4" y="1287.4"/>
<use href="#ball" x="235.4" y="1253.4"/>
<use href="#ball" x="246.4" y="1253.4"/>
<use href="#ball" x="279.4" y="1252.4"/>
<use href="#ball" x="268.4" y="1261.4"/>
<use href="#ball" x="285.4" y="1273.4"/>
<use href="#ball" x="275.4" y="1287.4"/>
<use href="#ball" x="287.4" y="1283.4"/>
<use href="#ball" x="149.4" y="1299.4"/>
<use href="#ball" x="203.4" y="1293.4"/>
<use href="#ball" x="223.4" y="1299.4"/>
<use href="#ball" x="254.4" y="1297.4"/>
<use href="#ball" x="321.4" y="1257.4"/>
<use href="#ball" x="395" y="1202.5"/>
<use href="#ball" x="385" y="1282.5"/>
<use href="#ball" x="425" y="1270"/>
<use href="#ball" x="553.5" y="1281"/>
</g>
<line x1="92.75" y1="1331.3" x2="569.5" y2="980.5" stroke="#e8101a" stroke-width="2.5"/>
<line x1="129" y1="1310" x2="547.7" y2="1019.3" stroke="#0808c0" stroke-width="2.5" stroke-dasharray="12 10.05 0.8 10.05" stroke-dashoffset="-1.2" stroke-linecap="round"/>
<rect x="92.75" y="980.5" width="476.75" height="350.8" fill="none" stroke="#2a2a2a" stroke-width="1.6"/>
<line x1="141.65" y1="1331.3" x2="141.65" y2="1324.3" stroke="#2a2a2a" stroke-width="1.5"/>
<line x1="92.75" y1="1295.32" x2="99.75" y2="1295.32" stroke="#2a2a2a" stroke-width="1.5"/>
<text transform="translate(141.65,1363.7) scale(0.955,1)" text-anchor="middle" font-size="33" font-family="Liberation Serif">50</text>
<text transform="translate(83.75,1305.82) scale(0.955,1)" text-anchor="end" font-size="33" font-family="Liberation Serif">50</text>
<line x1="202.77" y1="1331.3" x2="202.77" y2="1327.3" stroke="#2a2a2a" stroke-width="1.5"/>
<line x1="92.75" y1="1250.35" x2="96.75" y2="1250.35" stroke="#2a2a2a" stroke-width="1.5"/>
<line x1="263.89" y1="1331.3" x2="263.89" y2="1324.3" stroke="#2a2a2a" stroke-width="1.5"/>
<line x1="92.75" y1="1205.37" x2="99.75" y2="1205.37" stroke="#2a2a2a" stroke-width="1.5"/>
<text transform="translate(263.89,1363.7) scale(0.955,1)" text-anchor="middle" font-size="33" font-family="Liberation Serif">100</text>
<text transform="translate(83.75,1215.87) scale(0.955,1)" text-anchor="end" font-size="33" font-family="Liberation Serif">100</text>
<line x1="325.01" y1="1331.3" x2="325.01" y2="1327.3" stroke="#2a2a2a" stroke-width="1.5"/>
<line x1="92.75" y1="1160.4" x2="96.75" y2="1160.4" stroke="#2a2a2a" stroke-width="1.5"/>
<line x1="386.13" y1="1331.3" x2="386.13" y2="1324.3" stroke="#2a2a2a" stroke-width="1.5"/>
<line x1="92.75" y1="1115.42" x2="99.75" y2="1115.42" stroke="#2a2a2a" stroke-width="1.5"/>
<text transform="translate(386.13,1363.7) scale(0.955,1)" text-anchor="middle" font-size="33" font-family="Liberation Serif">150</text>
<text transform="translate(83.75,1125.92) scale(0.955,1)" text-anchor="end" font-size="33" font-family="Liberation Serif">150</text>
<line x1="447.26" y1="1331.3" x2="447.26" y2="1327.3" stroke="#2a2a2a" stroke-width="1.5"/>
<line x1="92.75" y1="1070.45" x2="96.75" y2="1070.45" stroke="#2a2a2a" stroke-width="1.5"/>
<line x1="508.38" y1="1331.3" x2="508.38" y2="1324.3" stroke="#2a2a2a" stroke-width="1.5"/>
<line x1="92.75" y1="1025.47" x2="99.75" y2="1025.47" stroke="#2a2a2a" stroke-width="1.5"/>
<text transform="translate(508.38,1363.7) scale(0.955,1)" text-anchor="middle" font-size="33" font-family="Liberation Serif">200</text>
<text transform="translate(83.75,1035.97) scale(0.955,1)" text-anchor="end" font-size="33" font-family="Liberation Serif">200</text>
<text x="331.12" y="1403.3" text-anchor="middle" font-size="31" font-family="Liberation Serif">Actual WI (m<tspan dy="-12.5" font-size="20">3</tspan><tspan dy="12.5">/h)</tspan></text>
<text transform="translate(28.75,1155.9) rotate(-90)" x="0" y="0" text-anchor="middle" font-size="31" font-family="Liberation Serif">Predict WI (m<tspan dy="-12.5" font-size="20">3</tspan><tspan dy="12.5">/h)</tspan></text>
<text transform="translate(101,1011.75) scale(1.022,1)" font-size="30" font-family="Liberation Serif">RMSE:14.5304</text>
<text transform="translate(101,1049.05) scale(1.022,1)" font-size="30" font-family="Liberation Serif">MAE:211.1342</text>
<text transform="translate(101,1086.25) scale(1.022,1)" font-size="30" font-family="Liberation Serif">MSE:9.7268</text>
<text transform="translate(101,1128.25) scale(1.022,1)" font-size="30" font-family="Liberation Serif">R<tspan dy="-12.5" font-size="19">2</tspan><tspan dy="12.5">:0.8146</tspan></text>
<text x="405.9" y="1321.3" textLength="161.8" lengthAdjust="spacingAndGlyphs" font-size="30.5" font-weight="bold" font-family="Liberation Serif">HGBoosting</text>
<text x="317.4" y="1444.8" text-anchor="middle" font-size="30" font-weight="bold" font-family="Liberation Serif">(e) <tspan fill="#4472c4">HGBoosting</tspan></text>
<text x="272.5" y="1132.5" font-size="26.5" font-family="Liberation Serif">Identity</text>
<text x="395" y="1182.5" font-size="26.5" font-family="Liberation Serif">Fitlinear</text>
<line x1="339" y1="1111" x2="386" y2="1108.6" stroke="#c42020" stroke-width="1.4" marker-end="url(#arr_r)"/>
<line x1="428.5" y1="1159" x2="428.5" y2="1111" stroke="#4a58b8" stroke-width="1.7" marker-end="url(#arr_b)"/>
<g clip-path="url(#clipf)">
<use href="#ball" x="785" y="1190"/>
<use href="#ball" x="790" y="1205"/>
<use href="#ball" x="810" y="1200"/>
<use href="#ball" x="780" y="1245"/>
<use href="#ball" x="790" y="1265"/>
<use href="#ball" x="805" y="1260"/>
<use href="#ball" x="770" y="1270"/>
<use href="#ball" x="775" y="1288"/>
<use href="#ball" x="815" y="1272"/>
<use href="#ball" x="830" y="1270"/>
<use href="#ball" x="840" y="1285"/>
<use href="#ball" x="845" y="1255"/>
<use href="#ball" x="835" y="1245"/>
<use href="#ball" x="865" y="1255"/>
<use href="#ball" x="800" y="1285"/>
<use href="#ball" x="825" y="1285"/>
<use href="#ball" x="740" y="1285"/>
<use href="#ball" x="765" y="1260"/>
<use href="#ball" x="810" y="1240"/>
<use href="#ball" x="870" y="1280"/>
<use href="#ball" x="770" y="1299"/>
<use href="#ball" x="790" y="1297"/>
<use href="#ball" x="812" y="1299"/>
<use href="#ball" x="764.2" y="1008.3"/>
<use href="#ball" x="900" y="1065"/>
<use href="#ball" x="805.8" y="1073.3"/>
<use href="#ball" x="793.3" y="1090.8"/>
<use href="#ball" x="803.3" y="1096.7"/>
<use href="#ball" x="821.7" y="1118.3"/>
<use href="#ball" x="796.7" y="1121.7"/>
<use href="#ball" x="793.3" y="1135"/>
<use href="#ball" x="799.4" y="1144.4"/>
<use href="#ball" x="831.4" y="1154.4"/>
<use href="#ball" x="782.4" y="1169.4"/>
<use href="#ball" x="753.4" y="1186.4"/>
<use href="#ball" x="770.4" y="1184.4"/>
<use href="#ball" x="744.4" y="1198.4"/>
<use href="#ball" x="753.4" y="1202.4"/>
<use href="#ball" x="801.4" y="1187.4"/>
<use href="#ball" x="821.4" y="1189.4"/>
<use href="#ball" x="831.4" y="1201.4"/>
<use href="#ball" x="772.4" y="1212.4"/>
<use href="#ball" x="777.4" y="1225.4"/>
<use href="#ball" x="801.4" y="1210.4"/>
<use href="#ball" x="813.4" y="1218.4"/>
<use href="#ball" x="851.4" y="1220.4"/>
<use href="#ball" x="899.4" y="1208.4"/>
<use href="#ball" x="833.4" y="1232.4"/>
<use href="#ball" x="767.4" y="1240.4"/>
<use href="#ball" x="773.4" y="1251.4"/>
<use href="#ball" x="797.4" y="1252.4"/>
<use href="#ball" x="819.4" y="1245.4"/>
<use href="#ball" x="821.4" y="1258.4"/>
<use href="#ball" x="752.4" y="1265.4"/>
<use href="#ball" x="735.4" y="1273.4"/>
<use href="#ball" x="759.4" y="1282.4"/>
<use href="#ball" x="781.4" y="1291.4"/>
<use href="#ball" x="754.4" y="1303.4"/>
<use href="#ball" x="799.4" y="1271.4"/>
<use href="#ball" x="811.4" y="1288.4"/>
<use href="#ball" x="853.4" y="1262.4"/>
<use href="#ball" x="861.4" y="1281.4"/>
<use href="#ball" x="875.4" y="1268.4"/>
<use href="#ball" x="892.4" y="1269.4"/>
<use href="#ball" x="891.4" y="1244.4"/>
<use href="#ball" x="894.4" y="1251.4"/>
<use href="#ball" x="928.4" y="1267.4"/>
<use href="#ball" x="852.4" y="1247.4"/>
<use href="#ball" x="883.4" y="1249.4"/>
<use href="#ball" x="1002.1" y="1208.8"/>
<use href="#ball" x="993.9" y="1274.1"/>
<use href="#ball" x="1032.5" y="1256"/>
<use href="#ball" x="1161.3" y="1264"/>
</g>
<line x1="700.3" y1="1331.3" x2="1177.3" y2="980.5" stroke="#e8101a" stroke-width="2.5"/>
<line x1="736.3" y1="1310" x2="1155.3" y2="1014" stroke="#0808c0" stroke-width="2.5" stroke-dasharray="12 10.05 0.8 10.05" stroke-dashoffset="-1.2" stroke-linecap="round"/>
<rect x="700.3" y="980.5" width="477" height="350.8" fill="none" stroke="#2a2a2a" stroke-width="1.6"/>
<line x1="749.22" y1="1331.3" x2="749.22" y2="1324.3" stroke="#2a2a2a" stroke-width="1.5"/>
<line x1="700.3" y1="1295.32" x2="707.3" y2="1295.32" stroke="#2a2a2a" stroke-width="1.5"/>
<text transform="translate(749.22,1363.7) scale(0.955,1)" text-anchor="middle" font-size="33" font-family="Liberation Serif">50</text>
<text transform="translate(691.3,1305.82) scale(0.955,1)" text-anchor="end" font-size="33" font-family="Liberation Serif">50</text>
<line x1="810.38" y1="1331.3" x2="810.38" y2="1327.3" stroke="#2a2a2a" stroke-width="1.5"/>
<line x1="700.3" y1="1250.35" x2="704.3" y2="1250.35" stroke="#2a2a2a" stroke-width="1.5"/>
<line x1="871.53" y1="1331.3" x2="871.53" y2="1324.3" stroke="#2a2a2a" stroke-width="1.5"/>
<line x1="700.3" y1="1205.37" x2="707.3" y2="1205.37" stroke="#2a2a2a" stroke-width="1.5"/>
<text transform="translate(871.53,1363.7) scale(0.955,1)" text-anchor="middle" font-size="33" font-family="Liberation Serif">100</text>
<text transform="translate(691.3,1215.87) scale(0.955,1)" text-anchor="end" font-size="33" font-family="Liberation Serif">100</text>
<line x1="932.68" y1="1331.3" x2="932.68" y2="1327.3" stroke="#2a2a2a" stroke-width="1.5"/>
<line x1="700.3" y1="1160.4" x2="704.3" y2="1160.4" stroke="#2a2a2a" stroke-width="1.5"/>
<line x1="993.84" y1="1331.3" x2="993.84" y2="1324.3" stroke="#2a2a2a" stroke-width="1.5"/>
<line x1="700.3" y1="1115.42" x2="707.3" y2="1115.42" stroke="#2a2a2a" stroke-width="1.5"/>
<text transform="translate(993.84,1363.7) scale(0.955,1)" text-anchor="middle" font-size="33" font-family="Liberation Serif">150</text>
<text transform="translate(691.3,1125.92) scale(0.955,1)" text-anchor="end" font-size="33" font-family="Liberation Serif">150</text>
<line x1="1054.99" y1="1331.3" x2="1054.99" y2="1327.3" stroke="#2a2a2a" stroke-width="1.5"/>
<line x1="700.3" y1="1070.45" x2="704.3" y2="1070.45" stroke="#2a2a2a" stroke-width="1.5"/>
<line x1="1116.15" y1="1331.3" x2="1116.15" y2="1324.3" stroke="#2a2a2a" stroke-width="1.5"/>
<line x1="700.3" y1="1025.47" x2="707.3" y2="1025.47" stroke="#2a2a2a" stroke-width="1.5"/>
<text transform="translate(1116.15,1363.7) scale(0.955,1)" text-anchor="middle" font-size="33" font-family="Liberation Serif">200</text>
<text transform="translate(691.3,1035.97) scale(0.955,1)" text-anchor="end" font-size="33" font-family="Liberation Serif">200</text>
<text x="938.8" y="1403.3" text-anchor="middle" font-size="31" font-family="Liberation Serif">Actual WI (m<tspan dy="-12.5" font-size="20">3</tspan><tspan dy="12.5">/h)</tspan></text>
<text transform="translate(636.3,1155.9) rotate(-90)" x="0" y="0" text-anchor="middle" font-size="31" font-family="Liberation Serif">Predict WI (m<tspan dy="-12.5" font-size="20">3</tspan><tspan dy="12.5">/h)</tspan></text>
<text transform="translate(711.1,1011.3) scale(1.022,1)" font-size="30" font-family="Liberation Serif">RMSE:12.0519</text>
<text transform="translate(711.1,1048.6) scale(1.022,1)" font-size="30" font-family="Liberation Serif">MAE:145.2491</text>
<text transform="translate(711.1,1085.8) scale(1.022,1)" font-size="30" font-family="Liberation Serif">MSE:7.9784</text>
<text transform="translate(711.1,1127.8) scale(1.022,1)" font-size="30" font-family="Liberation Serif">R<tspan dy="-12.5" font-size="19">2</tspan><tspan dy="12.5">:0.8724</tspan></text>
<text x="1130.3" y="1315.7" textLength="40.7" lengthAdjust="spacingAndGlyphs" font-size="30.5" font-weight="bold" font-family="Liberation Serif">RF</text>
<text x="908" y="1444.8" text-anchor="middle" font-size="30" font-weight="bold" font-family="Liberation Serif">(f) <tspan fill="#4472c4">RF</tspan></text>
<text x="876.5" y="1136.5" font-size="26.5" font-family="Liberation Serif">Identity</text>
<text x="1019" y="1184" font-size="26.5" font-family="Liberation Serif">Fitlinear</text>
<line x1="936" y1="1111.5" x2="994" y2="1107.5" stroke="#c42020" stroke-width="1.4" marker-end="url(#arr_r)"/>
<line x1="1042.5" y1="1159" x2="1027.5" y2="1111" stroke="#4a58b8" stroke-width="1.7" marker-end="url(#arr_b)"/>
<g clip-path="url(#clipg)">
<use href="#ball" x="160" y="1760"/>
<use href="#ball" x="165" y="1775"/>
<use href="#ball" x="185" y="1775"/>
<use href="#ball" x="200" y="1760"/>
<use href="#ball" x="205" y="1775"/>
<use href="#ball" x="220" y="1755"/>
<use href="#ball" x="230" y="1772"/>
<use href="#ball" x="245" y="1765"/>
<use href="#ball" x="260" y="1765"/>
<use href="#ball" x="160" y="1745"/>
<use href="#ball" x="215" y="1710"/>
<use href="#ball" x="180" y="1705"/>
<use href="#ball" x="235" y="1720"/>
<use href="#ball" x="250" y="1745"/>
<use href="#ball" x="270" y="1740"/>
<use href="#ball" x="275" y="1765"/>
<use href="#ball" x="155" y="1770"/>
<use href="#ball" x="230" y="1685"/>
<use href="#ball" x="255" y="1720"/>
<use href="#ball" x="293.3" y="1475"/>
<use href="#ball" x="185.8" y="1512.5"/>
<use href="#ball" x="199.2" y="1522.5"/>
<use href="#ball" x="156.7" y="1535"/>
<use href="#ball" x="214.2" y="1571.7"/>
<use href="#ball" x="192.5" y="1615"/>
<use href="#ball" x="201.7" y="1621.7"/>
<use href="#ball" x="187.5" y="1626.7"/>
<use href="#ball" x="225.4" y="1653.4"/>
<use href="#ball" x="146.4" y="1676.4"/>
<use href="#ball" x="136.4" y="1682.4"/>
<use href="#ball" x="146.4" y="1686.4"/>
<use href="#ball" x="172.4" y="1676.4"/>
<use href="#ball" x="186.4" y="1677.4"/>
<use href="#ball" x="199.4" y="1671.4"/>
<use href="#ball" x="213.4" y="1680.4"/>
<use href="#ball" x="174.4" y="1694.4"/>
<use href="#ball" x="163.4" y="1704.4"/>
<use href="#ball" x="206.4" y="1694.4"/>
<use href="#ball" x="223.4" y="1695.4"/>
<use href="#ball" x="245.4" y="1690.4"/>
<use href="#ball" x="194.4" y="1704.4"/>
<use href="#ball" x="241.4" y="1707.4"/>
<use href="#ball" x="290.4" y="1695.4"/>
<use href="#ball" x="188.4" y="1718.4"/>
<use href="#ball" x="160.4" y="1721.4"/>
<use href="#ball" x="166.4" y="1730.4"/>
<use href="#ball" x="223.4" y="1721.4"/>
<use href="#ball" x="246.4" y="1734.4"/>
<use href="#ball" x="279.4" y="1724.4"/>
<use href="#ball" x="286.4" y="1728.4"/>
<use href="#ball" x="146.4" y="1743.4"/>
<use href="#ball" x="129.4" y="1765.4"/>
<use href="#ball" x="138.4" y="1755.4"/>
<use href="#ball" x="172.4" y="1758.4"/>
<use href="#ball" x="177.4" y="1746.4"/>
<use href="#ball" x="191.4" y="1749.4"/>
<use href="#ball" x="209.4" y="1738.4"/>
<use href="#ball" x="191.4" y="1765.4"/>
<use href="#ball" x="217.4" y="1766.4"/>
<use href="#ball" x="231.4" y="1744.4"/>
<use href="#ball" x="269.4" y="1753.4"/>
<use href="#ball" x="283.4" y="1743.4"/>
<use href="#ball" x="288.4" y="1761.4"/>
<use href="#ball" x="254.4" y="1778.4"/>
<use href="#ball" x="203.4" y="1786.4"/>
<use href="#ball" x="172.4" y="1783.4"/>
<use href="#ball" x="147.4" y="1791.4"/>
<use href="#ball" x="151.4" y="1779.4"/>
<use href="#ball" x="321.4" y="1751.4"/>
<use href="#ball" x="243.4" y="1751.4"/>
<use href="#ball" x="235.4" y="1763.4"/>
<use href="#ball" x="395" y="1684"/>
<use href="#ball" x="385" y="1772.5"/>
<use href="#ball" x="425" y="1748.5"/>
<use href="#ball" x="553.5" y="1750"/>
</g>
<line x1="92.75" y1="1820.8" x2="569.5" y2="1470" stroke="#e8101a" stroke-width="2.5"/>
<line x1="129" y1="1797.5" x2="547.5" y2="1498.7" stroke="#0808c0" stroke-width="2.5" stroke-dasharray="12 10.05 0.8 10.05" stroke-dashoffset="-1.2" stroke-linecap="round"/>
<rect x="92.75" y="1470" width="476.75" height="350.8" fill="none" stroke="#2a2a2a" stroke-width="1.6"/>
<line x1="141.65" y1="1820.8" x2="141.65" y2="1813.8" stroke="#2a2a2a" stroke-width="1.5"/>
<line x1="92.75" y1="1784.82" x2="99.75" y2="1784.82" stroke="#2a2a2a" stroke-width="1.5"/>
<text transform="translate(141.65,1853.2) scale(0.955,1)" text-anchor="middle" font-size="33" font-family="Liberation Serif">50</text>
<text transform="translate(83.75,1795.32) scale(0.955,1)" text-anchor="end" font-size="33" font-family="Liberation Serif">50</text>
<line x1="202.77" y1="1820.8" x2="202.77" y2="1816.8" stroke="#2a2a2a" stroke-width="1.5"/>
<line x1="92.75" y1="1739.85" x2="96.75" y2="1739.85" stroke="#2a2a2a" stroke-width="1.5"/>
<line x1="263.89" y1="1820.8" x2="263.89" y2="1813.8" stroke="#2a2a2a" stroke-width="1.5"/>
<line x1="92.75" y1="1694.87" x2="99.75" y2="1694.87" stroke="#2a2a2a" stroke-width="1.5"/>
<text transform="translate(263.89,1853.2) scale(0.955,1)" text-anchor="middle" font-size="33" font-family="Liberation Serif">100</text>
<text transform="translate(83.75,1705.37) scale(0.955,1)" text-anchor="end" font-size="33" font-family="Liberation Serif">100</text>
<line x1="325.01" y1="1820.8" x2="325.01" y2="1816.8" stroke="#2a2a2a" stroke-width="1.5"/>
<line x1="92.75" y1="1649.9" x2="96.75" y2="1649.9" stroke="#2a2a2a" stroke-width="1.5"/>
<line x1="386.13" y1="1820.8" x2="386.13" y2="1813.8" stroke="#2a2a2a" stroke-width="1.5"/>
<line x1="92.75" y1="1604.92" x2="99.75" y2="1604.92" stroke="#2a2a2a" stroke-width="1.5"/>
<text transform="translate(386.13,1853.2) scale(0.955,1)" text-anchor="middle" font-size="33" font-family="Liberation Serif">150</text>
<text transform="translate(83.75,1615.42) scale(0.955,1)" text-anchor="end" font-size="33" font-family="Liberation Serif">150</text>
<line x1="447.26" y1="1820.8" x2="447.26" y2="1816.8" stroke="#2a2a2a" stroke-width="1.5"/>
<line x1="92.75" y1="1559.95" x2="96.75" y2="1559.95" stroke="#2a2a2a" stroke-width="1.5"/>
<line x1="508.38" y1="1820.8" x2="508.38" y2="1813.8" stroke="#2a2a2a" stroke-width="1.5"/>
<line x1="92.75" y1="1514.97" x2="99.75" y2="1514.97" stroke="#2a2a2a" stroke-width="1.5"/>
<text transform="translate(508.38,1853.2) scale(0.955,1)" text-anchor="middle" font-size="33" font-family="Liberation Serif">200</text>
<text transform="translate(83.75,1525.47) scale(0.955,1)" text-anchor="end" font-size="33" font-family="Liberation Serif">200</text>
<text x="331.12" y="1892.8" text-anchor="middle" font-size="31" font-family="Liberation Serif">Actual WI (m<tspan dy="-12.5" font-size="20">3</tspan><tspan dy="12.5">/h)</tspan></text>
<text transform="translate(28.75,1645.4) rotate(-90)" x="0" y="0" text-anchor="middle" font-size="31" font-family="Liberation Serif">Predict WI (m<tspan dy="-12.5" font-size="20">3</tspan><tspan dy="12.5">/h)</tspan></text>
<text transform="translate(103.95,1500.5) scale(1.022,1)" font-size="30" font-family="Liberation Serif">RMSE:12.1176</text>
<text transform="translate(103.95,1537.8) scale(1.022,1)" font-size="30" font-family="Liberation Serif">MAE:146.8383</text>
<text transform="translate(103.95,1575) scale(1.022,1)" font-size="30" font-family="Liberation Serif">MSE:8.0630</text>
<text transform="translate(103.95,1617) scale(1.022,1)" font-size="30" font-family="Liberation Serif">R<tspan dy="-12.5" font-size="19">2</tspan><tspan dy="12.5">:0.8710</tspan></text>
<text x="454.05" y="1806.3" textLength="114.05" lengthAdjust="spacingAndGlyphs" font-size="30.5" font-weight="bold" font-family="Liberation Serif">Stacking</text>
<text x="317.4" y="1934.3" text-anchor="middle" font-size="30" font-weight="bold" font-family="Liberation Serif">(g) <tspan fill="#4472c4">Stacking</tspan></text>
<text x="264" y="1622.4" font-size="26.5" font-family="Liberation Serif">Identity</text>
<text x="388.5" y="1670" font-size="26.5" font-family="Liberation Serif">Fitlinear</text>
<line x1="353" y1="1612" x2="395" y2="1592.4" stroke="#c42020" stroke-width="1.4" marker-end="url(#arr_r)"/>
<line x1="414.4" y1="1647" x2="413.6" y2="1600" stroke="#4a58b8" stroke-width="1.7" marker-end="url(#arr_b)"/>
<g clip-path="url(#cliph)">
<use href="#ball" x="785" y="1685"/>
<use href="#ball" x="790" y="1700"/>
<use href="#ball" x="810" y="1695"/>
<use href="#ball" x="785" y="1740"/>
<use href="#ball" x="780" y="1760"/>
<use href="#ball" x="765" y="1760"/>
<use href="#ball" x="775" y="1775"/>
<use href="#ball" x="810" y="1765"/>
<use href="#ball" x="820" y="1775"/>
<use href="#ball" x="840" y="1765"/>
<use href="#ball" x="845" y="1750"/>
<use href="#ball" x="835" y="1745"/>
<use href="#ball" x="815" y="1735"/>
<use href="#ball" x="860" y="1755"/>
<use href="#ball" x="838" y="1772"/>
<use href="#ball" x="785" y="1720"/>
<use href="#ball" x="805" y="1730"/>
<use href="#ball" x="870" y="1765"/>
<use href="#ball" x="760" y="1745"/>
<use href="#ball" x="815" y="1700"/>
<use href="#ball" x="764.2" y="1525.8"/>
<use href="#ball" x="900" y="1530"/>
<use href="#ball" x="805.8" y="1559.2"/>
<use href="#ball" x="792.5" y="1573.3"/>
<use href="#ball" x="802.5" y="1578.3"/>
<use href="#ball" x="821.7" y="1585"/>
<use href="#ball" x="796.7" y="1615"/>
<use href="#ball" x="831.7" y="1630.8"/>
<use href="#ball" x="791.4" y="1645.4"/>
<use href="#ball" x="800.4" y="1642.4"/>
<use href="#ball" x="782.4" y="1668.4"/>
<use href="#ball" x="753.4" y="1676.4"/>
<use href="#ball" x="770.4" y="1678.4"/>
<use href="#ball" x="744.4" y="1688.4"/>
<use href="#ball" x="753.4" y="1690.4"/>
<use href="#ball" x="801.4" y="1686.4"/>
<use href="#ball" x="821.4" y="1679.4"/>
<use href="#ball" x="831.4" y="1694.4"/>
<use href="#ball" x="778.4" y="1697.4"/>
<use href="#ball" x="772.4" y="1708.4"/>
<use href="#ball" x="813.4" y="1711.4"/>
<use href="#ball" x="852.4" y="1712.4"/>
<use href="#ball" x="898.4" y="1706.4"/>
<use href="#ball" x="893.4" y="1713.4"/>
<use href="#ball" x="833.4" y="1723.4"/>
<use href="#ball" x="765.4" y="1729.4"/>
<use href="#ball" x="773.4" y="1732.4"/>
<use href="#ball" x="795.4" y="1726.4"/>
<use href="#ball" x="799.4" y="1745.4"/>
<use href="#ball" x="821.4" y="1748.4"/>
<use href="#ball" x="853.4" y="1743.4"/>
<use href="#ball" x="887.4" y="1734.4"/>
<use href="#ball" x="895.4" y="1741.4"/>
<use href="#ball" x="875.4" y="1753.4"/>
<use href="#ball" x="892.4" y="1762.4"/>
<use href="#ball" x="752.4" y="1754.4"/>
<use href="#ball" x="743.4" y="1751.4"/>
<use href="#ball" x="736.4" y="1762.4"/>
<use href="#ball" x="760.4" y="1773.4"/>
<use href="#ball" x="781.4" y="1780.4"/>
<use href="#ball" x="799.4" y="1766.4"/>
<use href="#ball" x="811.4" y="1781.4"/>
<use href="#ball" x="861.4" y="1774.4"/>
<use href="#ball" x="755.4" y="1789.4"/>
<use href="#ball" x="771.4" y="1795.4"/>
<use href="#ball" x="928.4" y="1753.4"/>
<use href="#ball" x="831.4" y="1761.4"/>
<use href="#ball" x="1002.1" y="1703.5"/>
<use href="#ball" x="993.9" y="1765.3"/>
<use href="#ball" x="1032.5" y="1739.2"/>
<use href="#ball" x="1161.3" y="1751.5"/>
</g>
<line x1="700.3" y1="1820.8" x2="1177.3" y2="1470" stroke="#e8101a" stroke-width="2.5"/>
<line x1="736.3" y1="1797.5" x2="1155.7" y2="1501.7" stroke="#0808c0" stroke-width="2.5" stroke-dasharray="12 10.05 0.8 10.05" stroke-dashoffset="-1.2" stroke-linecap="round"/>
<rect x="700.3" y="1470" width="477" height="350.8" fill="none" stroke="#2a2a2a" stroke-width="1.6"/>
<line x1="749.22" y1="1820.8" x2="749.22" y2="1813.8" stroke="#2a2a2a" stroke-width="1.5"/>
<line x1="700.3" y1="1784.82" x2="707.3" y2="1784.82" stroke="#2a2a2a" stroke-width="1.5"/>
<text transform="translate(749.22,1853.2) scale(0.955,1)" text-anchor="middle" font-size="33" font-family="Liberation Serif">50</text>
<text transform="translate(691.3,1795.32) scale(0.955,1)" text-anchor="end" font-size="33" font-family="Liberation Serif">50</text>
<line x1="810.38" y1="1820.8" x2="810.38" y2="1816.8" stroke="#2a2a2a" stroke-width="1.5"/>
<line x1="700.3" y1="1739.85" x2="704.3" y2="1739.85" stroke="#2a2a2a" stroke-width="1.5"/>
<line x1="871.53" y1="1820.8" x2="871.53" y2="1813.8" stroke="#2a2a2a" stroke-width="1.5"/>
<line x1="700.3" y1="1694.87" x2="707.3" y2="1694.87" stroke="#2a2a2a" stroke-width="1.5"/>
<text transform="translate(871.53,1853.2) scale(0.955,1)" text-anchor="middle" font-size="33" font-family="Liberation Serif">100</text>
<text transform="translate(691.3,1705.37) scale(0.955,1)" text-anchor="end" font-size="33" font-family="Liberation Serif">100</text>
<line x1="932.68" y1="1820.8" x2="932.68" y2="1816.8" stroke="#2a2a2a" stroke-width="1.5"/>
<line x1="700.3" y1="1649.9" x2="704.3" y2="1649.9" stroke="#2a2a2a" stroke-width="1.5"/>
<line x1="993.84" y1="1820.8" x2="993.84" y2="1813.8" stroke="#2a2a2a" stroke-width="1.5"/>
<line x1="700.3" y1="1604.92" x2="707.3" y2="1604.92" stroke="#2a2a2a" stroke-width="1.5"/>
<text transform="translate(993.84,1853.2) scale(0.955,1)" text-anchor="middle" font-size="33" font-family="Liberation Serif">150</text>
<text transform="translate(691.3,1615.42) scale(0.955,1)" text-anchor="end" font-size="33" font-family="Liberation Serif">150</text>
<line x1="1054.99" y1="1820.8" x2="1054.99" y2="1816.8" stroke="#2a2a2a" stroke-width="1.5"/>
<line x1="700.3" y1="1559.95" x2="704.3" y2="1559.95" stroke="#2a2a2a" stroke-width="1.5"/>
<line x1="1116.15" y1="1820.8" x2="1116.15" y2="1813.8" stroke="#2a2a2a" stroke-width="1.5"/>
<line x1="700.3" y1="1514.97" x2="707.3" y2="1514.97" stroke="#2a2a2a" stroke-width="1.5"/>
<text transform="translate(1116.15,1853.2) scale(0.955,1)" text-anchor="middle" font-size="33" font-family="Liberation Serif">200</text>
<text transform="translate(691.3,1525.47) scale(0.955,1)" text-anchor="end" font-size="33" font-family="Liberation Serif">200</text>
<text x="938.8" y="1892.8" text-anchor="middle" font-size="31" font-family="Liberation Serif">Actual WI (m<tspan dy="-12.5" font-size="20">3</tspan><tspan dy="12.5">/h)</tspan></text>
<text transform="translate(636.3,1645.4) rotate(-90)" x="0" y="0" text-anchor="middle" font-size="31" font-family="Liberation Serif">Predict WI (m<tspan dy="-12.5" font-size="20">3</tspan><tspan dy="12.5">/h)</tspan></text>
<text transform="translate(711.1,1501.75) scale(1.022,1)" font-size="30" font-family="Liberation Serif">RMSE:12.4758</text>
<text transform="translate(711.1,1539.05) scale(1.022,1)" font-size="30" font-family="Liberation Serif">MAE:155.6468</text>
<text transform="translate(711.1,1576.25) scale(1.022,1)" font-size="30" font-family="Liberation Serif">MSE:8.2056</text>
<text transform="translate(711.1,1618.25) scale(1.022,1)" font-size="30" font-family="Liberation Serif">R<tspan dy="-12.5" font-size="19">2</tspan><tspan dy="12.5">:0.8633</tspan></text>
<text x="1083.5" y="1804.8" textLength="88.9" lengthAdjust="spacingAndGlyphs" font-size="30.5" font-weight="bold" font-family="Liberation Serif">Voting</text>
<text x="924.8" y="1934.3" text-anchor="middle" font-size="30" font-weight="bold" font-family="Liberation Serif">(h) <tspan fill="#4472c4">Voting</tspan></text>
<text x="863.7" y="1630.4" font-size="26.5" font-family="Liberation Serif">Identity</text>
<text x="992.2" y="1675.8" font-size="26.5" font-family="Liberation Serif">Fitlinear</text>
<line x1="944.8" y1="1613.75" x2="991.7" y2="1600.8" stroke="#c42020" stroke-width="1.4" marker-end="url(#arr_r)"/>
<line x1="1021.9" y1="1648.75" x2="1021.25" y2="1601.9" stroke="#4a58b8" stroke-width="1.7" marker-end="url(#arr_b)"/>
</svg>
</body></html>
